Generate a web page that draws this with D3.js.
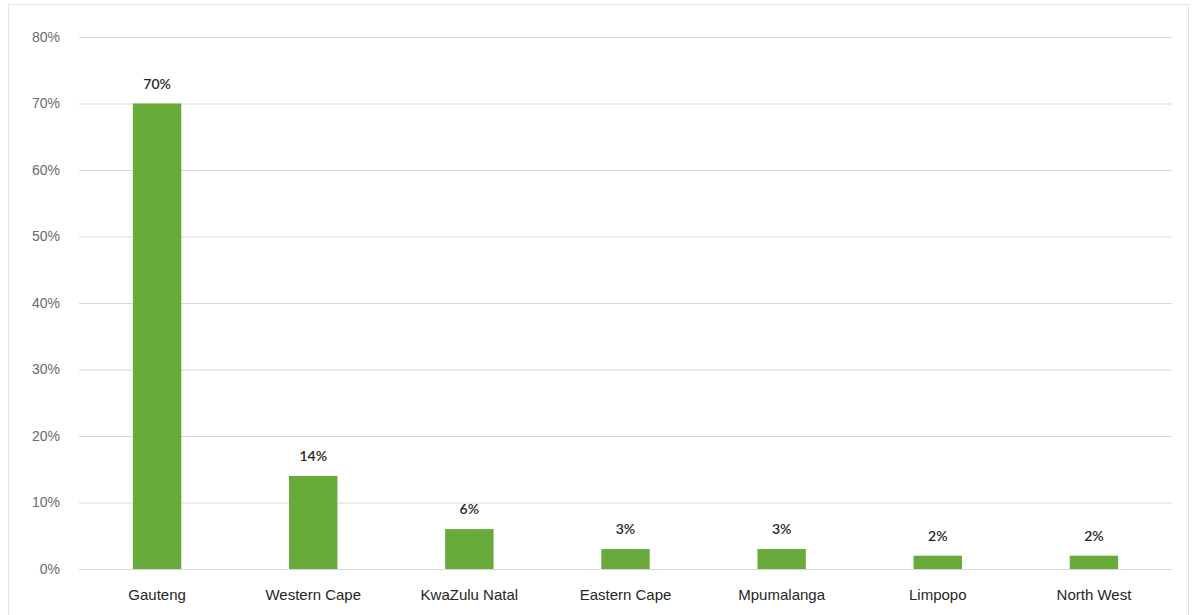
<!DOCTYPE html>
<html>
<head>
<meta charset="utf-8">
<script src="https://cdn.jsdelivr.net/npm/d3@7"></script>
<style>
  html, body { margin: 0; padding: 0; background: #ffffff; }
  svg { display: block; font-family: Lato, "Open Sans", sans-serif; }
</style>
</head>
<body>
<svg id="chart" width="1195" height="615"></svg>
<script>
// Share by province
const provinces = ["Gauteng", "Western Cape", "KwaZulu Natal", "Eastern Cape", "Mpumalanga", "Limpopo", "North West"];
const shares = [70, 14, 6, 3, 3, 2, 2];
const yTicks = [0, 10, 20, 30, 40, 50, 60, 70, 80];

const svg = d3.select("#chart");
const W = 1195, H = 615;
const margin = { top: 37, right: 23, bottom: 46, left: 79 };
const innerW = W - margin.left - margin.right;
const innerH = H - margin.top - margin.bottom;

// faint outer frame
svg.append("rect")
  .attr("x", 8.5).attr("y", 4.5)
  .attr("width", 1180).attr("height", 620)
  .attr("fill", "none")
  .attr("stroke", "#e4e4e4");

const g = svg.append("g").attr("transform", `translate(${margin.left},${margin.top})`);

const x = d3.scaleBand().domain(provinces).range([0, innerW]).paddingInner(0.69).paddingOuter(0.345);
const y = d3.scaleLinear().domain([0, 80]).range([innerH, 0]);

// gridlines + y tick labels
const yAxis = d3.axisLeft(y).tickValues(yTicks).tickSize(-innerW).tickFormat(d => d + "%");
const ya = g.append("g").call(yAxis);
ya.select(".domain").remove();
ya.selectAll(".tick line").attr("stroke", "#d9d9d9").attr("stroke-width", 1);
ya.selectAll(".tick text")
  .attr("x", -19)
  .attr("fill", "#6a6a6a")
  .style("font-size", "14px");

// bars
const data = provinces.map((p, i) => ({ p, v: shares[i] }));
g.selectAll("rect.bar").data(data).enter().append("rect")
  .attr("class", "bar")
  .attr("x", d => x(d.p))
  .attr("y", d => y(d.v))
  .attr("width", x.bandwidth())
  .attr("height", d => y(0) - y(d.v))
  .attr("fill", "#68ab3b");

// value labels
g.selectAll("text.val").data(data).enter().append("text")
  .attr("class", "val")
  .attr("x", d => x(d.p) + x.bandwidth() / 2)
  .attr("y", d => y(d.v) - 15)
  .attr("text-anchor", "middle")
  .attr("fill", "#262626")
  .style("font-size", "14px")
  .style("font-weight", "600")
  .text(d => d.v + "%");

// category axis
const xa = g.append("g").attr("transform", `translate(0,${innerH})`)
  .call(d3.axisBottom(x).tickSize(0).tickPadding(20));
xa.select(".domain").remove();
xa.selectAll(".tick text")
  .attr("fill", "#262626")
  .style("font-size", "15px");
</script>
</body>
</html>
